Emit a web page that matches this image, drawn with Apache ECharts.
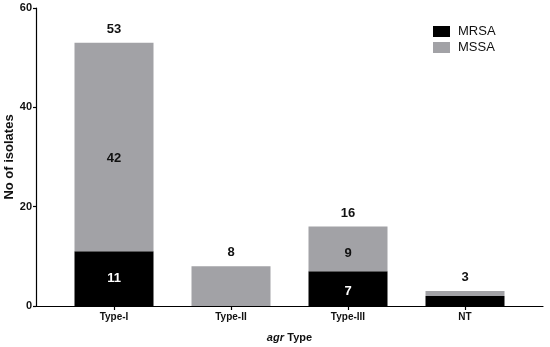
<!DOCTYPE html>
<html>
<head>
<meta charset="utf-8">
<script src="https://cdn.jsdelivr.net/npm/echarts@6/dist/echarts.min.js"></script>
<style>html,body{margin:0;padding:0;background:#fff}#c{width:550px;height:347px}</style>
</head>
<body>
<div id="c"></div>
<script>
var categories = ['Type-I', 'Type-II', 'Type-III', 'NT'];
var mrsa = [11, 0, 7, 2];
var mssa = [42, 8, 9, 1];
var showMrsaLabel = [true, false, true, false];
var showMssaLabel = [true, false, true, false];
var yTicks = [0, 20, 40, 60];

var FONT = '"Liberation Sans", Arial, sans-serif';
var totals = mrsa.map(function (v, i) { return v + mssa[i]; });
var mrsaOffsets = [[0, 0], [0, 0], [0, 3], [0, 0]];
var mssaOffsets = [[0, 11], [0, 0], [0, 5], [0, 0]];

var chart = echarts.init(document.getElementById('c'), null, { renderer: 'canvas' });
chart.setOption({
  animation: false,
  textStyle: { fontFamily: FONT },
  grid: [
    { left: 36, right: 7, top: 8, bottom: 41, containLabel: false, outerBoundsMode: 'none' },
    { left: 55.5, right: 26.5, top: 8, bottom: 41, containLabel: false, outerBoundsMode: 'none' }
  ],
  legend: {
    data: ['MRSA', 'MSSA'],
    orient: 'vertical',
    left: 433, top: 25, padding: 0,
    itemWidth: 17, itemHeight: 11, itemGap: 3,
    icon: 'rect',
    textStyle: { fontFamily: FONT, fontSize: 13, color: '#111', padding: [0, 0, 0, 3] }
  },
  xAxis: [
    {
      gridIndex: 0, type: 'value', min: 0, max: 1,
      axisLine: { show: true, onZero: false, lineStyle: { color: '#000', width: 1.2 } },
      axisTick: { show: false }, axisLabel: { show: false }, splitLine: { show: false },
      name: '{i|agr} {b|Type}',
      nameLocation: 'middle',
      nameGap: 26,
      nameMoveOverlap: false,
      nameTextStyle: {
        rich: {
          i: { fontFamily: FONT, fontSize: 11, fontWeight: 'bold', fontStyle: 'italic', color: '#111' },
          b: { fontFamily: FONT, fontSize: 11, fontWeight: 'bold', color: '#111' }
        }
      }
    },
    {
      gridIndex: 1, type: 'category', data: categories,
      axisLine: { show: false },
      axisTick: { show: true, alignWithLabel: true, length: 4, lineStyle: { color: '#000', width: 1.2 } },
      axisLabel: { fontFamily: FONT, fontSize: 10, fontWeight: 'bold', color: '#111', margin: 6 },
      splitLine: { show: false }
    }
  ],
  yAxis: [
    {
      gridIndex: 0, type: 'value', min: 0, max: 60, interval: 20,
      name: 'No of isolates',
      nameLocation: 'middle',
      nameGap: 20,
      nameMoveOverlap: false,
      nameTextStyle: { fontFamily: FONT, fontSize: 13, fontWeight: 'bold', color: '#111' },
      axisLine: { show: true, onZero: false, lineStyle: { color: '#000', width: 1.2 } },
      axisTick: { show: true, length: 3, lineStyle: { color: '#000', width: 1.2 } },
      axisLabel: {
        fontFamily: FONT, fontSize: 11, fontWeight: 'bold', color: '#111', margin: 4,
        formatter: function (v) { return yTicks.indexOf(v) >= 0 ? String(v) : ''; }
      },
      splitLine: { show: false }
    },
    {
      gridIndex: 1, type: 'value', min: 0, max: 60, interval: 20, show: false,
      splitLine: { show: false }
    }
  ],
  series: [
    {
      name: 'MRSA', type: 'bar', stack: 'a', barWidth: 79,
      xAxisIndex: 1, yAxisIndex: 1,
      itemStyle: { color: '#000' },
      data: mrsa.map(function (v, i) {
        return {
          value: v,
          label: {
            show: showMrsaLabel[i], position: 'inside', offset: mrsaOffsets[i],
            formatter: String(v), color: '#fff', fontFamily: FONT, fontSize: 13, fontWeight: 'bold'
          }
        };
      })
    },
    {
      name: 'MSSA', type: 'bar', stack: 'a', barWidth: 79,
      xAxisIndex: 1, yAxisIndex: 1,
      itemStyle: { color: '#a2a2a6' },
      data: mssa.map(function (v, i) {
        return {
          value: v,
          label: {
            show: showMssaLabel[i], position: 'inside', offset: mssaOffsets[i],
            formatter: String(v), color: '#111', fontFamily: FONT, fontSize: 13, fontWeight: 'bold'
          }
        };
      })
    },
    {
      name: 'Total', type: 'bar', stack: 'a', barWidth: 79,
      xAxisIndex: 1, yAxisIndex: 1,
      itemStyle: { color: 'transparent' },
      silent: true,
      data: totals.map(function (t) {
        return {
          value: 0,
          label: {
            show: true, position: 'top', distance: 7,
            formatter: String(t), color: '#111', fontFamily: FONT, fontSize: 13, fontWeight: 'bold'
          }
        };
      })
    }
  ]
});
</script>
</body>
</html>
